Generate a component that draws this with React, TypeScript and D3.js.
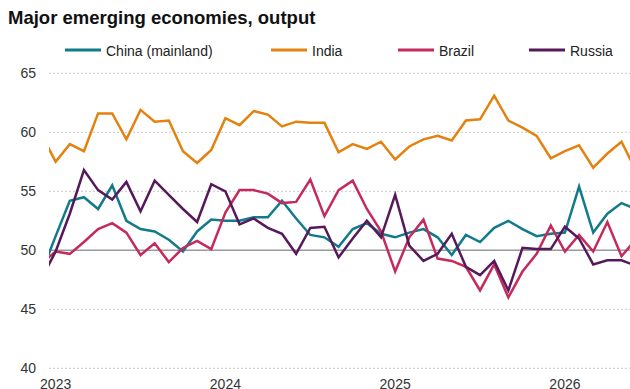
import React from "react";
import * as d3 from "d3";

// Months: index -1 = Dec 2022, 0 = Jan 2023, ... 41 = Jun 2026
const startIndex = -1;
const yearLabels = ["2023", "2024", "2025", "2026"];
const yearTickIndex = [0, 12, 24, 36];
const yTicks = [40, 45, 50, 55, 60, 65];

const seriesNames = ["China (mainland)", "India", "Brazil", "Russia"];
const seriesColors = ["#127b8b", "#e3820f", "#c62a5c", "#561a5c"];

const china = [
  48.1,
  51.2, 54.2, 54.5, 53.5, 55.5, 52.5, 51.8, 51.6, 50.9, 49.9, 51.6, 52.6,
  52.5, 52.5, 52.8, 52.8, 54.2, 52.7, 51.3, 51.1, 50.3, 51.8, 52.3, 51.4,
  51.1, 51.5, 51.8, 51.1, 49.6, 51.3, 50.7, 51.9, 52.5, 51.8, 51.2, 51.4,
  51.5, 55.4, 51.5, 53.1, 54.0, 53.5,
];
const india = [
  59.8,
  57.5, 59.0, 58.4, 61.6, 61.6, 59.4, 61.9, 60.9, 61.0, 58.4, 57.4, 58.5,
  61.2, 60.6, 61.8, 61.5, 60.5, 60.9, 60.8, 60.8, 58.3, 59.0, 58.6, 59.2,
  57.7, 58.8, 59.4, 59.7, 59.3, 61.0, 61.1, 63.1, 61.0, 60.4, 59.7, 57.8,
  58.4, 58.9, 57.0, 58.2, 59.2, 56.8,
];
const brazil = [
  48.9,
  49.9, 49.7, 50.7, 51.8, 52.3, 51.5, 49.6, 50.6, 49.0, 50.2, 50.8, 50.1,
  53.2, 55.1, 55.1, 54.8, 54.0, 54.1, 56.0, 52.9, 55.1, 55.9, 53.5, 51.6,
  48.2, 51.1, 52.6, 49.3, 49.1, 48.6, 46.6, 48.8, 46.0, 48.2, 49.7, 52.1,
  49.9, 51.3, 49.9, 52.4, 49.5, 50.9,
];
const russia = [
  47.6,
  49.9, 53.1, 56.8, 55.1, 54.3, 55.8, 53.3, 55.9, 54.7, 53.5, 52.4, 55.6,
  55.0, 52.2, 52.7, 51.9, 51.4, 49.7, 51.9, 52.0, 49.4, 51.0, 52.5, 51.1,
  54.7, 50.4, 49.1, 49.7, 51.4, 48.6, 47.9, 49.1, 46.6, 50.2, 50.1, 50.1,
  52.0, 51.0, 48.8, 49.15, 49.15, 48.7,
];
const seriesValues = [china, india, brazil, russia];

const W = 630;
const H = 389;
const plotLeft = 49;
const plotRight = 630;
const font = "'Liberation Sans', Arial, Helvetica, sans-serif";

export default function App() {
  const x = d3.scaleLinear().domain([-0.47, 40.6]).range([plotLeft, plotRight]);
  const y = d3.scaleLinear().domain([40, 65]).range([368.3, 73.3]);
  const line = d3
    .line<number>()
    .x((_, i) => x(startIndex + i))
    .y((v) => y(v));

  const legendX = [65, 271, 398, 529];

  return (
    <svg
      width={W}
      height={H}
      style={{ position: "absolute", left: 0, top: 0, display: "block", background: "#fff" }}
      fontFamily={font}
    >
      <defs>
        <clipPath id="plotclip">
          <rect x={plotLeft} y={0} width={plotRight - plotLeft} height={H} />
        </clipPath>
      </defs>
      <text x={8} y={24} fontSize={18.5} fontWeight="bold" fill="#111">
        Major emerging economies, output
      </text>

      {seriesNames.map((name, i) => (
        <g key={name}>
          <line
            x1={legendX[i]}
            x2={legendX[i] + 36}
            y1={50}
            y2={50}
            stroke={seriesColors[i]}
            strokeWidth={3}
          />
          <text x={legendX[i] + 41} y={55.5} fontSize={14} fill="#222">
            {name}
          </text>
        </g>
      ))}

      {yTicks.map((t) => (
        <g key={t}>
          {t !== 50 && (
            <line
              x1={plotLeft}
              x2={plotRight}
              y1={y(t)}
              y2={y(t)}
              stroke="#c8c8c8"
              strokeWidth={1}
              strokeDasharray="2,2"
            />
          )}
          <text
            x={36}
            y={y(t)}
            dy="0.35em"
            textAnchor="end"
            fontSize={14}
            fill="#333"
          >
            {t}
          </text>
        </g>
      ))}
      <line
        x1={plotLeft}
        x2={plotRight}
        y1={y(50)}
        y2={y(50)}
        stroke="#9a9a9a"
        strokeWidth={1.5}
      />

      {yearLabels.map((lab, i) => (
        <text
          key={lab}
          x={x(yearTickIndex[i])}
          y={389}
          textAnchor="middle"
          fontSize={14}
          fill="#333"
        >
          {lab}
        </text>
      ))}

      <g clipPath="url(#plotclip)">
        {seriesValues.map((vals, i) => (
          <path
            key={seriesNames[i]}
            d={line(vals) || ""}
            fill="none"
            stroke={seriesColors[i]}
            strokeWidth={2.5}
            strokeLinejoin="miter"
          />
        ))}
      </g>
    </svg>
  );
}
